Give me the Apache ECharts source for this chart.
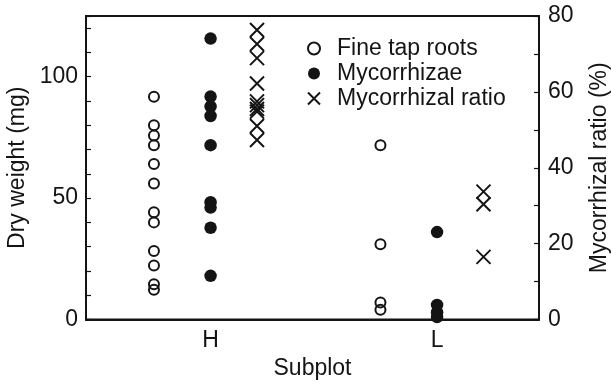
<!DOCTYPE html>
<html>
<head>
<meta charset="utf-8">
<script src="https://cdn.jsdelivr.net/npm/echarts@6/dist/echarts.min.js"></script>
<style>
html,body{margin:0;padding:0;background:#fff;}
#chart{width:611px;height:384px;}
</style>
</head>
<body>
<div id="chart"></div>
<script>
// ---- Data ----
var categories = ['H', 'L'];
var fineTapRootsH = [91.7, 80.0, 75.8, 71.8, 64.0, 56.0, 44.2, 40.0, 28.2, 22.2, 14.5, 12.3];
var fineTapRootsL = [71.8, 31.0, 7.0, 4.0];
var mycorrhizaeH = [115.7, 91.8, 87.8, 83.8, 71.8, 48.3, 46.1, 37.8, 18.0];
var mycorrhizaeL = [36.0, 6.0, 3.0, 1.0];
var ratioH = [76.3, 72.6, 68.9, 62.2, 57.5, 56.5, 55.5, 54.8, 51.0, 47.3];
var ratioL = [33.7, 30.4, 16.5];
var leftTicks = [0, 50, 100];
var rightTicks = [0, 20, 40, 60, 80];

// ---- Layout / style ----
var offsets = { fine: -0.25, myc: 0.0, ratio: 0.205 };
var ink = '#141414';
var font = 'Liberation Sans, Arial, Helvetica, sans-serif';
var fs = 23;

function pts(vals, catIdx, off) {
  return vals.map(function (v) { return [catIdx + 1 + off, v]; });
}
var fineData = pts(fineTapRootsH, 0, offsets.fine).concat(pts(fineTapRootsL, 1, offsets.fine));
var mycData = pts(mycorrhizaeH, 0, offsets.myc).concat(pts(mycorrhizaeL, 1, offsets.myc));
var ratioData = pts(ratioH, 0, offsets.ratio).concat(pts(ratioL, 1, offsets.ratio));

var chart = echarts.init(document.getElementById('chart'), null, { renderer: 'canvas' });
var option = {
  animation: false,
  backgroundColor: '#fff',
  textStyle: { fontFamily: font, color: ink },
  grid: {
    left: 86, right: 72, top: 16, bottom: 64.5,
    containLabel: false, outerBoundsMode: 'none',
    show: true, borderColor: ink, borderWidth: 2, backgroundColor: 'transparent'
  },
  legend: {
    orient: 'vertical',
    left: 302, top: 32,
    itemWidth: 26, itemHeight: 12, itemGap: 2,
    textStyle: { fontFamily: font, fontSize: fs, color: ink, padding: [0, 0, 0, 5] },
    data: ['Fine tap roots', 'Mycorrhizae', 'Mycorrhizal ratio']
  },
  xAxis: {
    type: 'value', min: 0.45, max: 2.45,
    name: 'Subplot', nameLocation: 'middle', nameGap: 38,
    nameTextStyle: { fontFamily: font, fontSize: fs, color: ink },
    axisLine: { show: true, lineStyle: { color: ink, width: 2 } },
    axisTick: { show: false },
    splitLine: { show: false },
    axisLabel: {
      customValues: [1, 2],
      formatter: function (v) { return categories[Math.round(v) - 1] || ''; },
      fontFamily: font, fontSize: fs, color: ink, margin: 10
    }
  },
  yAxis: [{
    type: 'value', min: 0, max: 125, interval: 10,
    name: 'Dry weight (mg)', nameLocation: 'middle', nameGap: 49,
    nameTextStyle: { fontFamily: font, fontSize: fs, color: ink },
    axisLine: { show: true, lineStyle: { color: ink, width: 2 } },
    axisTick: { show: true, inside: true, length: 5, lineStyle: { color: ink, width: 1.2 } },
    splitLine: { show: false },
    axisLabel: {
      formatter: function (v) { return leftTicks.indexOf(v) >= 0 ? String(v) : ''; },
      fontFamily: font, fontSize: fs, color: ink, margin: 8
    }
  }, {
    type: 'value', min: 0, max: 80, interval: 10, position: 'right',
    name: 'Mycorrhizal ratio (%)', nameLocation: 'middle', nameGap: 49, nameRotate: 90,
    nameTextStyle: { fontFamily: font, fontSize: fs, color: ink },
    axisLine: { show: true, lineStyle: { color: ink, width: 2 } },
    axisTick: { show: true, inside: true, length: 5, lineStyle: { color: ink, width: 1.2 } },
    splitLine: { show: false },
    axisLabel: {
      formatter: function (v) { return rightTicks.indexOf(v) >= 0 ? String(v) : ''; },
      fontFamily: font, fontSize: fs, color: ink, margin: 9
    }
  }],
  series: [{
    name: 'Fine tap roots', type: 'scatter', yAxisIndex: 0,
    symbol: 'circle', symbolSize: 10,
    itemStyle: { color: 'rgba(255,255,255,0)', borderColor: ink, borderWidth: 2, opacity: 1 },
    data: fineData
  }, {
    name: 'Mycorrhizae', type: 'scatter', yAxisIndex: 0,
    symbol: 'circle', symbolSize: 12.5,
    itemStyle: { color: ink, borderWidth: 0, opacity: 1 },
    data: mycData
  }, {
    name: 'Mycorrhizal ratio', type: 'scatter', yAxisIndex: 1,
    symbol: 'path://M0,0L10,10M10,0L0,10', symbolSize: 14,
    itemStyle: { color: 'rgba(255,255,255,0)', borderColor: ink, borderWidth: 2, opacity: 1 },
    data: ratioData
  }]
};
chart.setOption(option);
</script>
</body>
</html>
